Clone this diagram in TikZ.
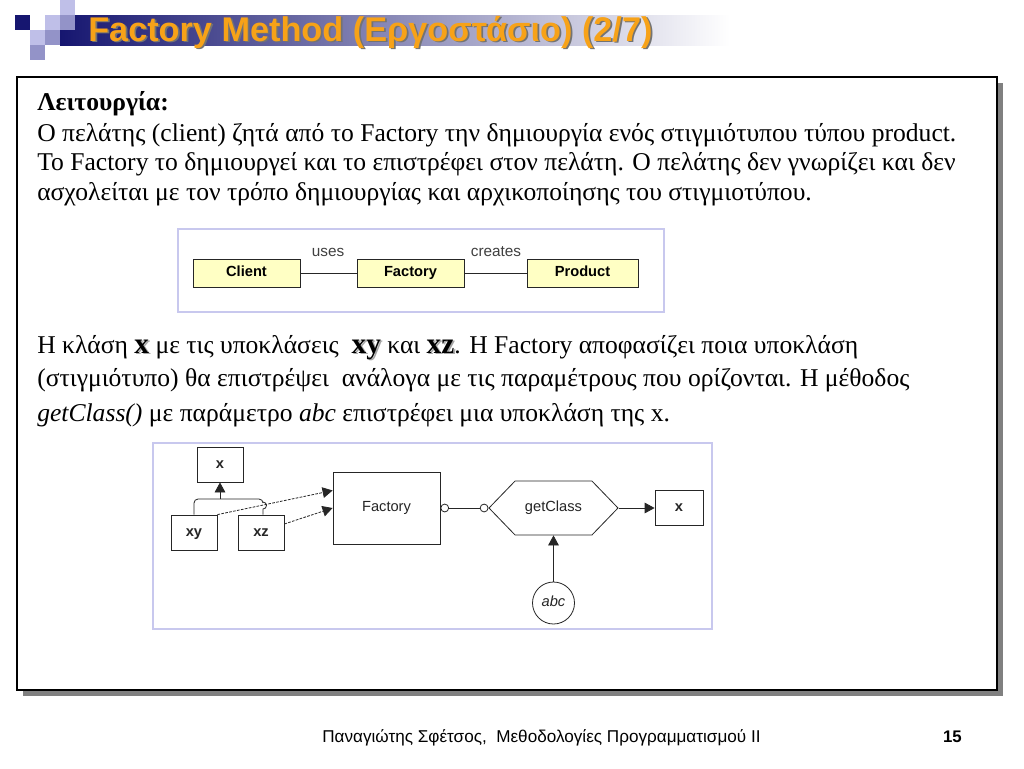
\documentclass[tikz,border=0pt]{standalone}
\usepackage{fontspec}
\setmainfont{Liberation Serif}
\setsansfont{Liberation Sans}
\usepackage{xcolor}
\usepackage{tikz}
\usetikzlibrary{arrows.meta}
\usetikzlibrary{shapes.symbols}
\definecolor{navy}{RGB}{22,22,112}
\definecolor{lilac}{RGB}{200,200,238}
\definecolor{cream}{RGB}{255,255,196}
\definecolor{titleorange}{RGB}{247,162,24}
\newcommand{\shadowtext}[2][gray]{\rlap{\textcolor{#1}{\kern1.3pt\raisebox{-1.3pt}{#2}}}#2}
\newcommand{\bodyfont}{\fontsize{19.2}{23}\selectfont}

\begin{document}
\begin{tikzpicture}[x=0.75pt,y=-0.75pt,
    body/.style={anchor=base west,inner sep=0pt,font=\bodyfont},
    umlbox/.style={draw=black!85,fill=cream,font=\sffamily\bfseries\fontsize{11}{13}\selectfont,
      minimum height=21pt,inner sep=0pt,text height=1.6ex,text depth=0.45ex},
    flowbox/.style={draw=black!85,fill=white,font=\sffamily\fontsize{11}{13}\selectfont,
      text=black!85,inner sep=0pt,line width=0.6pt,text height=1.6ex,text depth=0.45ex},
    tip/.style={-{Triangle[length=7.5pt,width=8pt]}},
    framebox/.style={draw=lilac,line width=1.1pt}]
  \useasboundingbox (0,0) rectangle (1024,768);
  % title bar
  \shade[left color=navy,right color=white] (60,15) rectangle (730,45);
  \fill[navy] (15,15) rectangle (30,30);
  \fill[lilac!95!navy] (45,15) rectangle (60,30);
  \fill[lilac!95!navy] (60,0) rectangle (75,15);
  \fill[lilac!70!navy] (60,15) rectangle (75,30);
  \fill[lilac!95!navy] (30,30) rectangle (45,45);
  \fill[lilac!70!navy] (45,30) rectangle (60,45);
  \fill[lilac!70!navy] (30,45) rectangle (45,60);
  \node (title) [anchor=west,inner sep=0pt,text=titleorange,
    font=\sffamily\bfseries\fontsize{25.7}{30}\selectfont] at (88,33)
    {\shadowtext[black!55]{Factory Method (Εργοστάσιο) (2/7)}};
  % main box
  \fill[gray] (23,83) rectangle (1003,696);
  \draw[fill=white,line width=1pt] (17,77) rectangle (997,690);
  % text
  \node (head) [body] at (37,110) {\bfseries Λειτουργία:};
  \node (l1) [body] at (37,141) {Ο πελάτης (client) ζητά από το Factory την δημιουργία ενός στιγμιότυπου τύπου product.};
  \node (l2) [body] at (37,170) {Το Factory το δημιουργεί και το επιστρέφει στον πελάτη. Ο πελάτης δεν γνωρίζει και δεν};
  \node (l3) [body] at (37,200) {ασχολείται με τον τρόπο δημιουργίας και αρχικοποίησης του στιγμιοτύπου.};
  \node (m1) [body] at (37,353) {Η κλάση {\fontsize{22}{23}\selectfont\bfseries\shadowtext[gray!70]{x}} με τις υποκλάσεις \ {\fontsize{22}{23}\selectfont\bfseries\shadowtext[gray!70]{xy}} και {\fontsize{22}{23}\selectfont\bfseries\shadowtext[gray!70]{xz}}. Η Factory αποφασίζει ποια υποκλάση};
  \node (m2) [body] at (37,386) {(στιγμιότυπο) θα επιστρέψει \ ανάλογα με τις παραμέτρους που ορίζονται. Η μέθοδος};
  \node (m3) [body] at (37,421) {\itshape getClass()\upshape{} με παράμετρο \itshape abc\upshape{} επιστρέφει μια υποκλάση της x.};
  % first figure
  \draw[framebox] (178,229) rectangle (664,312);
  \node (client) [umlbox,minimum width=80.25pt] at (246.5,273) {Client};
  \node (factory) [umlbox,minimum width=80.25pt] at (410.5,273) {Factory};
  \node (product) [umlbox,minimum width=83.25pt] at (582.5,273) {Product};
  \node (uses) [font=\sffamily\fontsize{11.5}{13}\selectfont,text=black!75] at (328,252) {uses};
  \node (creates) [font=\sffamily\fontsize{11.5}{13}\selectfont,text=black!75] at (496,252) {creates};
  \draw[black!85] (client) -- (factory);
  \draw[black!85] (factory) -- (product);
  % second figure
  \draw[framebox] (153,443) rectangle (712,629);
  \node (xtop) [flowbox,font=\sffamily\bfseries\fontsize{11}{13}\selectfont,
    minimum width=34.5pt,minimum height=26.25pt] at (220,464.5) {x};
  \node (xy) [flowbox,font=\sffamily\bfseries\fontsize{11}{13}\selectfont,
    minimum width=34.5pt,minimum height=26.25pt] at (194,532.5) {xy};
  \node (xz) [flowbox,font=\sffamily\bfseries\fontsize{11}{13}\selectfont,
    minimum width=34.5pt,minimum height=26.25pt] at (261,532.5) {xz};
  \node (fac) [flowbox,minimum width=80.25pt,minimum height=54pt] at (386.5,508) {Factory};
  \node (get) [flowbox,shape=signal,signal to=west and east,signal pointer angle=92,
    minimum width=96.75pt,minimum height=40.5pt] at (553.5,508) {getClass};
  \node (xout) [flowbox,font=\sffamily\bfseries\fontsize{11}{13}\selectfont,
    minimum width=36pt,minimum height=26.25pt] at (679,508) {x};
  \node (abc) [flowbox,circle,font=\sffamily\itshape\fontsize{11}{13}\selectfont,
    minimum size=31.5pt] at (553.5,603) {abc};
  \coordinate (join) at (220,499);
  \draw[black!85,line width=0.6pt,rounded corners=3pt] (xy.north) |- (263,499) -- (263,503);
  \draw[black!85,line width=0.6pt] (263,502) arc (-90:90:3.5) -- (xz.north -| 263,0);
  \draw[tip,black!85,line width=0.6pt] (join) -- (xtop.south);
  \draw[tip,black!85,line width=0.6pt,dash pattern=on 2pt off 1pt] (xy.north east) -- (fac.162);
  \draw[tip,black!85,line width=0.6pt,dash pattern=on 2pt off 1pt] (xz.20) -- (fac.west);
  \draw[{Circle[open,length=6.5pt]}-{Circle[open,length=6.5pt]},black!85,line width=0.6pt] (fac.east) -- (get.west);
  \draw[tip,black!85,line width=0.6pt] (get.east) -- (xout.west);
  \draw[tip,black!85,line width=0.6pt] (abc.north) -- (get.south);
  % footer
  \node (foot) [anchor=base west,inner sep=0pt,font=\sffamily\fontsize{12.85}{15}\selectfont]
    at (322,742) {Παναγιώτης Σφέτσος, \ Μεθοδολογίες Προγραμματισμού ΙΙ};
  \node (page) [anchor=base east,inner sep=0pt,font=\sffamily\bfseries\fontsize{12.6}{15}\selectfont]
    at (962,742) {15};
\end{tikzpicture}
\end{document}
